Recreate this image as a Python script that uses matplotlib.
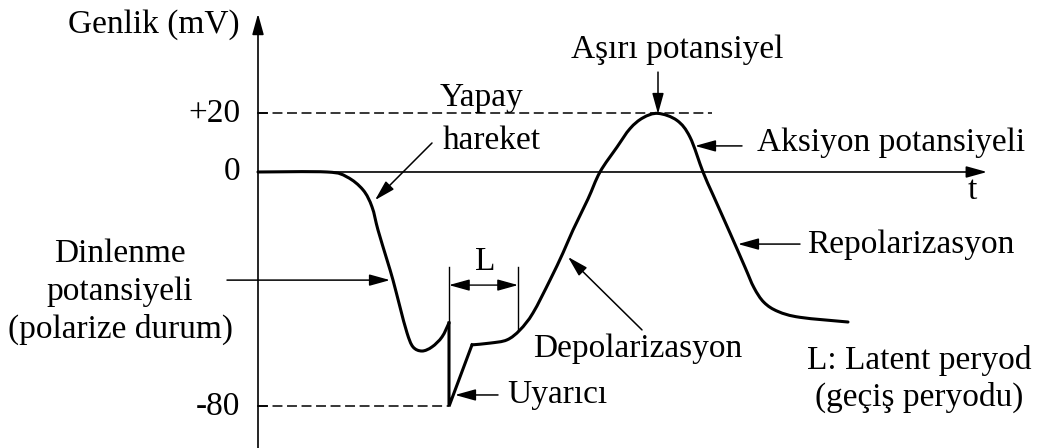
import matplotlib.pyplot as plt
from matplotlib.path import Path
from matplotlib.patches import PathPatch

# action potential trace (t in arbitrary units, v in mV)
# three pieces: before the stimulus, the stimulus jump, and the response
t_rest = [0.0, 6.9, 8.9, 10.5, 11.4, 12.0, 12.9, 13.5, 14.2, 14.9, 15.5, 16.4, 17.4, 18.4, 19.1]
v_rest = [0.0, 0.0, -1.7, -6.1, -11.9, -19.8, -30.0, -36.9, -46.1, -54.9, -59.7, -61.1, -59.7, -56.3, -51.5]
t_stim_jump = [19.1, 19.1, 21.4]
v_stim_jump = [-51.5, -80.0, -59.0]
t_resp = [21.4, 23.2, 24.9, 26.2, 27.5, 29.2, 30.5, 31.5, 33.0, 34.2, 35.9, 37.2, 38.5, 40.0,
          41.9, 43.2, 44.5, 45.5, 47.2, 48.7, 49.6, 50.6, 52.0, 54.2, 59.0]
v_resp = [-59.0, -58.4, -57.3, -53.9, -48.1, -36.9, -27.6, -19.8, -9.2, 0.0, 8.5, 14.8, 18.5, 20.0,
          17.6, 11.9, 0.0, -7.8, -20.8, -32.5, -39.5, -44.5, -47.6, -49.6, -51.2]

ytick_vals = [20, 0, -80]
ytick_labels = ['+20', '0', '-80']
t_peak_end = 45.4      # end of the +20 dashed guide
t_stim = 19.1          # stimulus instant
t_latent_end = 26.0    # end of latent period

SERIF = ['Liberation Serif', 'DejaVu Serif']
FS = 24
DASH = (0, (6.5, 3))

fig = plt.figure(figsize=(10.54, 4.48), dpi=100)
ax = fig.add_axes([0, 0, 1, 1])
ax.set_xlim(-25.8, 79.6)
ax.set_ylim(-94.2, 58.7)
ax.axis('off')


def smooth_path(xs, ys):
    # catmull-rom through the points, drawn as cubic beziers
    pts = list(zip(xs, ys))
    n = len(pts)
    verts = [pts[0]]
    codes = [Path.MOVETO]
    for i in range(n - 1):
        p0 = pts[max(i - 1, 0)]
        p1 = pts[i]
        p2 = pts[i + 1]
        p3 = pts[min(i + 2, n - 1)]
        c1 = (p1[0] + (p2[0] - p0[0]) / 6, p1[1] + (p2[1] - p0[1]) / 6)
        c2 = (p2[0] - (p3[0] - p1[0]) / 6, p2[1] - (p3[1] - p1[1]) / 6)
        verts += [c1, c2, p2]
        codes += [Path.CURVE4] * 3
    return Path(verts, codes)


def arrow(x0, y0, x1, y1, style='-|>', lw=1.1):
    ax.annotate('', xy=(x1, y1), xytext=(x0, y0),
                arrowprops=dict(arrowstyle=style + ',head_length=0.9,head_width=0.25',
                                lw=lw, color='black', shrinkA=0, shrinkB=0,
                                mutation_scale=14))


def label(x, y, s, ha='left', **kw):
    ax.text(x, y, s, ha=ha, va='center', fontsize=FS, family=SERIF, **kw)


# axes
arrow(0, -94.2, 0, 54.0, lw=1.2)
arrow(0, 0, 72.9, 0, lw=1.2)
label(71.4, -6.5, 't', ha='center')
label(-1.8, 50.2, 'Genlik (mV)', ha='right')
for val, txt in zip(ytick_vals, ytick_labels):
    label(-1.8, val, txt, ha='right')
    ax.plot([0, 0.9], [val, val], color='black', lw=1.2)

# dashed guides
ax.plot([0, t_peak_end], [20, 20], color='black', lw=1.1, ls=DASH)
ax.plot([0, t_stim], [-80, -80], color='black', lw=1.1, ls=DASH)

# the trace
for xs, ys in [(t_rest, v_rest), (t_resp, v_resp)]:
    ax.add_patch(PathPatch(smooth_path(xs, ys), fill=False, lw=2.2, ec='black',
                           capstyle='round', joinstyle='round'))
ax.plot(t_stim_jump, v_stim_jump, color='black', lw=2.2, solid_joinstyle='miter')

# latent period bracket
ax.plot([t_stim, t_stim], [-51.5, -32.4], color='black', lw=1.0)
ax.plot([t_latent_end, t_latent_end], [-53.9, -32.4], color='black', lw=1.0)
arrow(t_stim, -38.6, t_latent_end, -38.6, style='<|-|>', lw=1.0)
label(22.7, -30.5, 'L', ha='center')

# annotations
label(22.3, 25.4, 'Yapay', ha='center')
label(23.4, 10.6, 'hareket', ha='center')
arrow(17.4, 9.9, 11.7, -9.6)

ax.text(-13.8, -41.0, 'Dinlenme\npotansiyeli\n(polarize durum)', ha='center', va='center',
        fontsize=FS, family=SERIF, linespacing=1.3, multialignment='center')
arrow(-3.1, -36.9, 13.2, -36.9)

label(24.9, -76.1, 'Uyarıcı')
arrow(24.0, -76.1, 19.7, -76.1)

label(27.5, -60.3, 'Depolarizasyon')
arrow(38.4, -53.9, 31.0, -29.0)

label(41.9, 41.6, 'Aşırı potansiyel', ha='center')
arrow(40.0, 34.1, 40.0, 19.8)

label(49.9, 9.9, 'Aksiyon potansiyeli')
arrow(48.4, 8.9, 43.7, 8.9)

label(54.9, -24.9, 'Repolarizasyon')
arrow(54.2, -24.6, 48.0, -24.6)

label(54.9, -64.2, 'L: Latent peryod')
label(55.7, -76.8, '(geçiş peryodu)')

fig.savefig('out.png', dpi=100, facecolor='white')
